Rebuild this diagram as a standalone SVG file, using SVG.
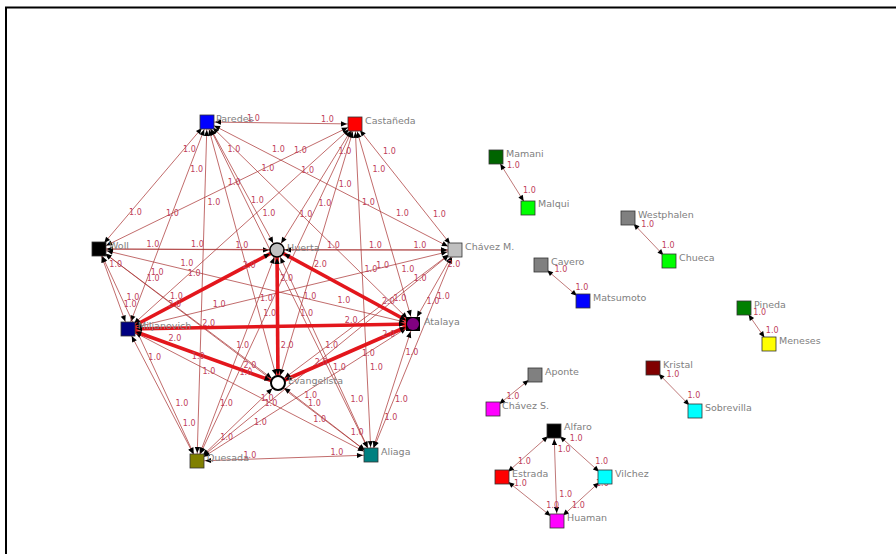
<svg xmlns="http://www.w3.org/2000/svg" width="896" height="554" viewBox="0 0 896 554">
<style>
.e{stroke:#a83232;stroke-opacity:0.8;stroke-width:0.9;fill:none;marker-start:url(#ah);marker-end:url(#ah)}
.t{stroke:#e3161c;stroke-width:3.6;fill:none;marker-start:url(#ah);marker-end:url(#ah)}
.s{stroke:#b86a6a;stroke-width:0.9;fill:none;marker-start:url(#ah);marker-end:url(#ah)}
.l{font-family:"DejaVu Sans",Verdana,sans-serif;font-size:8px;fill:#c0405a}
.n{font-family:"DejaVu Sans",Verdana,sans-serif;font-size:9.5px;fill:#808080}
.sq{stroke:#333;stroke-width:0.8}
</style>
<defs>
<marker id="ah" markerUnits="userSpaceOnUse" markerWidth="12" markerHeight="12" refX="8" refY="0" orient="auto-start-reverse" overflow="visible">
<path d="M0,0 L-6,-2.6 L-6,2.6 Z" fill="#000"/>
</marker>
</defs>
<rect width="896" height="554" fill="#fff"/>
<path d="M6,554 V7.5 H896" fill="none" stroke="#000" stroke-width="2"/>
<g id="connectors">
<line class="e" x1="207" y1="122" x2="355" y2="124"/>
<line class="e" x1="207" y1="122" x2="99" y2="249"/>
<line class="e" x1="207" y1="122" x2="277" y2="250"/>
<line class="e" x1="207" y1="122" x2="455" y2="250"/>
<line class="e" x1="207" y1="122" x2="128" y2="329"/>
<line class="e" x1="207" y1="122" x2="413" y2="324"/>
<line class="e" x1="207" y1="122" x2="278" y2="383"/>
<line class="e" x1="207" y1="122" x2="197" y2="461"/>
<line class="e" x1="207" y1="122" x2="371" y2="455"/>
<line class="e" x1="355" y1="124" x2="99" y2="249"/>
<line class="e" x1="355" y1="124" x2="277" y2="250"/>
<line class="e" x1="355" y1="124" x2="455" y2="250"/>
<line class="e" x1="355" y1="124" x2="128" y2="329"/>
<line class="e" x1="355" y1="124" x2="413" y2="324"/>
<line class="e" x1="355" y1="124" x2="278" y2="383"/>
<line class="e" x1="355" y1="124" x2="197" y2="461"/>
<line class="e" x1="355" y1="124" x2="371" y2="455"/>
<line class="e" x1="99" y1="249" x2="277" y2="250"/>
<line class="e" x1="99" y1="249" x2="455" y2="250"/>
<line class="e" x1="99" y1="249" x2="128" y2="329"/>
<line class="e" x1="99" y1="249" x2="413" y2="324"/>
<line class="e" x1="99" y1="249" x2="278" y2="383"/>
<line class="e" x1="99" y1="249" x2="197" y2="461"/>
<line class="e" x1="99" y1="249" x2="371" y2="455"/>
<line class="e" x1="277" y1="250" x2="455" y2="250"/>
<line class="e" x1="277" y1="250" x2="197" y2="461"/>
<line class="e" x1="277" y1="250" x2="371" y2="455"/>
<line class="e" x1="455" y1="250" x2="128" y2="329"/>
<line class="e" x1="455" y1="250" x2="413" y2="324"/>
<line class="e" x1="455" y1="250" x2="278" y2="383"/>
<line class="e" x1="455" y1="250" x2="197" y2="461"/>
<line class="e" x1="455" y1="250" x2="371" y2="455"/>
<line class="e" x1="128" y1="329" x2="197" y2="461"/>
<line class="e" x1="128" y1="329" x2="371" y2="455"/>
<line class="e" x1="413" y1="324" x2="197" y2="461"/>
<line class="e" x1="413" y1="324" x2="371" y2="455"/>
<line class="e" x1="278" y1="383" x2="197" y2="461"/>
<line class="e" x1="278" y1="383" x2="371" y2="455"/>
<line class="e" x1="197" y1="461" x2="371" y2="455"/>
<line class="t" x1="277" y1="250" x2="128" y2="329"/>
<line class="t" x1="277" y1="250" x2="413" y2="324"/>
<line class="t" x1="277" y1="250" x2="278" y2="383"/>
<line class="t" x1="128" y1="329" x2="413" y2="324"/>
<line class="t" x1="128" y1="329" x2="278" y2="383"/>
<line class="t" x1="413" y1="324" x2="278" y2="383"/>
<line class="s" x1="496" y1="157" x2="528" y2="208"/>
<line class="s" x1="628" y1="218" x2="669" y2="261"/>
<line class="s" x1="541" y1="265" x2="583" y2="301"/>
<line class="s" x1="744" y1="308" x2="769" y2="344"/>
<line class="s" x1="653" y1="368" x2="695" y2="411"/>
<line class="s" x1="535" y1="375" x2="493" y2="409"/>
<line class="s" x1="554" y1="431" x2="502" y2="477"/>
<line class="s" x1="554" y1="431" x2="605" y2="477"/>
<line class="s" x1="554" y1="431" x2="557" y2="521"/>
<line class="s" x1="502" y1="477" x2="557" y2="521"/>
<line class="s" x1="605" y1="477" x2="557" y2="521"/>
</g>
<g id="edge-labels">
<text class="l" x="247" y="120.5">1.0</text><text class="l" x="321" y="121.5">1.0</text>
<text class="l" x="183" y="151.8">1.0</text><text class="l" x="129" y="215.3">1.0</text>
<text class="l" x="227.5" y="152">1.0</text><text class="l" x="262.5" y="216">1.0</text>
<text class="l" x="272" y="152">1.0</text><text class="l" x="396" y="216">1.0</text>
<text class="l" x="190.3" y="171.8">1.0</text><text class="l" x="150.8" y="275.3">1.0</text>
<text class="l" x="261.5" y="170.5">1.0</text><text class="l" x="364.5" y="271.5">1.0</text>
<text class="l" x="227.8" y="185.3">1.0</text><text class="l" x="263.3" y="315.8">1.0</text>
<text class="l" x="207.5" y="204.8">1.0</text><text class="l" x="202.5" y="374.3">1.0</text>
<text class="l" x="251" y="203.3">1.0</text><text class="l" x="333" y="369.8">1.0</text>
<text class="l" x="294" y="153.3">1.0</text><text class="l" x="166" y="215.8">1.0</text>
<text class="l" x="338.5" y="153.5">1.0</text><text class="l" x="299.5" y="216.5">1.0</text>
<text class="l" x="383" y="153.5">1.0</text><text class="l" x="433" y="216.5">1.0</text>
<text class="l" x="301.3" y="173.3">1.0</text><text class="l" x="187.8" y="275.8">1.0</text>
<text class="l" x="372.5" y="172">1.0</text><text class="l" x="401.5" y="272">1.0</text>
<text class="l" x="338.8" y="186.8">1.0</text><text class="l" x="300.3" y="316.3">1.0</text>
<text class="l" x="318.5" y="206.3">1.0</text><text class="l" x="239.5" y="374.8">1.0</text>
<text class="l" x="362" y="204.8">1.0</text><text class="l" x="370" y="370.3">1.0</text>
<text class="l" x="146.5" y="247.3">1.0</text><text class="l" x="235.5" y="247.8">1.0</text>
<text class="l" x="191" y="247.3">1.0</text><text class="l" x="369" y="247.8">1.0</text>
<text class="l" x="109.3" y="267">1.0</text><text class="l" x="123.8" y="307">1.0</text>
<text class="l" x="180.5" y="265.8">1.0</text><text class="l" x="337.5" y="303.3">1.0</text>
<text class="l" x="146.8" y="280.5">1.0</text><text class="l" x="236.3" y="347.5">1.0</text>
<text class="l" x="126.5" y="300">1.0</text><text class="l" x="175.5" y="406">1.0</text>
<text class="l" x="170" y="298.5">1.0</text><text class="l" x="308" y="406">1.0</text>
<text class="l" x="327" y="248">1.0</text><text class="l" x="413.5" y="248">1.0</text>
<text class="l" x="242.8" y="267.8">2.0</text><text class="l" x="168.3" y="307.3">2.0</text>
<text class="l" x="314" y="266.5">2.0</text><text class="l" x="382" y="303.5">2.0</text>
<text class="l" x="280.3" y="281.3">2.0</text><text class="l" x="280.8" y="347.8">2.0</text>
<text class="l" x="260" y="300.8">1.0</text><text class="l" x="220" y="406.3">1.0</text>
<text class="l" x="303.5" y="299.3">1.0</text><text class="l" x="350.5" y="401.8">1.0</text>
<text class="l" x="376.3" y="267.8">1.0</text><text class="l" x="212.8" y="307.3">1.0</text>
<text class="l" x="447.5" y="266.5">2.0</text><text class="l" x="426.5" y="303.5">1.0</text>
<text class="l" x="413.8" y="281.3">1.0</text><text class="l" x="325.3" y="347.8">1.0</text>
<text class="l" x="393.5" y="300.8">1.0</text><text class="l" x="264.5" y="406.3">1.0</text>
<text class="l" x="437" y="299.3">1.0</text><text class="l" x="395" y="401.8">1.0</text>
<text class="l" x="202.3" y="325.8">2.0</text><text class="l" x="344.8" y="323.3">2.0</text>
<text class="l" x="168.5" y="340.5">2.0</text><text class="l" x="243.5" y="367.5">2.0</text>
<text class="l" x="148.3" y="360">1.0</text><text class="l" x="182.8" y="426">1.0</text>
<text class="l" x="191.8" y="358.5">1.0</text><text class="l" x="313.3" y="421.5">1.0</text>
<text class="l" x="382.3" y="336.8">2.0</text><text class="l" x="314.8" y="365.3">2.0</text>
<text class="l" x="362" y="356.3">1.0</text><text class="l" x="254" y="424.8">1.0</text>
<text class="l" x="405.5" y="354.8">1.0</text><text class="l" x="384.5" y="420.3">1.0</text>
<text class="l" x="260.8" y="400.5">1.0</text><text class="l" x="220.3" y="439.5">1.0</text>
<text class="l" x="304.3" y="397.5">1.0</text><text class="l" x="350.8" y="435">1.0</text>
<text class="l" x="243.5" y="457.5">1.0</text><text class="l" x="330.5" y="454.5">1.0</text>
<text class="l" x="507" y="167.8">1.0</text><text class="l" x="523" y="193.3">1.0</text>
<text class="l" x="641.3" y="226.8">1.0</text><text class="l" x="661.8" y="248.3">1.0</text>
<text class="l" x="554.5" y="272">1.0</text><text class="l" x="575.5" y="290">1.0</text>
<text class="l" x="753.3" y="315">1.0</text><text class="l" x="765.8" y="333">1.0</text>
<text class="l" x="666.5" y="376.8">1.0</text><text class="l" x="687.5" y="398.3">1.0</text>
<text class="l" x="506.5" y="398.5">1.0</text>
<text class="l" x="518" y="463.5">1.0</text>
<text class="l" x="569.8" y="440.5">1.0</text><text class="l" x="595.3" y="463.5">1.0</text>
<text class="l" x="557.8" y="451.5">1.0</text><text class="l" x="559.3" y="496.5">1.0</text>
<text class="l" x="514" y="486">1.0</text><text class="l" x="546.3" y="508">1.0</text>
<text class="l" x="596" y="486">1.0</text><text class="l" x="572" y="508">1.0</text>
</g>
<g id="paredes"><rect class="sq" x="200" y="115" width="14" height="14" fill="#0000ff"/><text class="n" x="216" y="122">Paredes</text></g>
<g id="castaneda"><rect class="sq" x="348" y="117" width="14" height="14" fill="#ff0000"/><text class="n" x="365" y="124">Castañeda</text></g>
<g id="woll"><rect class="sq" x="92" y="242" width="14" height="14" fill="#000000"/><text class="n" x="109" y="249">Woll</text></g>
<g id="huerta"><circle cx="277" cy="250" r="7" fill="#c0c0c0" stroke="#000" stroke-width="1.5"/><text class="n" x="287" y="251">Huerta</text></g>
<g id="chavez-m"><rect class="sq" x="448" y="243" width="14" height="14" fill="#c0c0c0"/><text class="n" x="465" y="250">Chávez M.</text></g>
<g id="miljanovich"><rect class="sq" x="121" y="322" width="14" height="14" fill="#000080"/><text class="n" x="138" y="329">Miljanovich</text></g>
<g id="atalaya"><rect x="406" y="317" width="14" height="14" fill="#000"/><circle cx="413" cy="324" r="6" fill="#800080"/><text class="n" x="424" y="325">Atalaya</text></g>
<g id="evangelista"><circle cx="278" cy="383" r="7" fill="#fff" stroke="#000" stroke-width="2"/><text class="n" x="288" y="384">Evangelista</text></g>
<g id="quesada"><rect class="sq" x="190" y="454" width="14" height="14" fill="#808000"/><text class="n" x="207" y="461">Quesada</text></g>
<g id="aliaga"><rect class="sq" x="364" y="448" width="14" height="14" fill="#008080"/><text class="n" x="381" y="455">Aliaga</text></g>
<g id="mamani"><rect class="sq" x="489" y="150" width="14" height="14" fill="#006400"/><text class="n" x="506" y="157">Mamani</text></g>
<g id="malqui"><rect class="sq" x="521" y="201" width="14" height="14" fill="#00ff00"/><text class="n" x="538" y="207">Malqui</text></g>
<g id="westphalen"><rect class="sq" x="621" y="211" width="14" height="14" fill="#808080"/><text class="n" x="638" y="218">Westphalen</text></g>
<g id="chueca"><rect class="sq" x="662" y="254" width="14" height="14" fill="#00ff00"/><text class="n" x="679" y="261">Chueca</text></g>
<g id="cavero"><rect class="sq" x="534" y="258" width="14" height="14" fill="#808080"/><text class="n" x="551" y="265">Cavero</text></g>
<g id="matsumoto"><rect class="sq" x="576" y="294" width="14" height="14" fill="#0000ff"/><text class="n" x="593" y="301">Matsumoto</text></g>
<g id="pineda"><rect class="sq" x="737" y="301" width="14" height="14" fill="#008000"/><text class="n" x="754" y="308">Pineda</text></g>
<g id="meneses"><rect class="sq" x="762" y="337" width="14" height="14" fill="#ffff00"/><text class="n" x="779" y="344">Meneses</text></g>
<g id="kristal"><rect class="sq" x="646" y="361" width="14" height="14" fill="#800000"/><text class="n" x="663" y="368">Kristal</text></g>
<g id="sobrevilla"><rect class="sq" x="688" y="404" width="14" height="14" fill="#00ffff"/><text class="n" x="705" y="411">Sobrevilla</text></g>
<g id="aponte"><rect class="sq" x="528" y="368" width="14" height="14" fill="#808080"/><text class="n" x="545" y="375">Aponte</text></g>
<g id="chavez-s"><rect class="sq" x="486" y="402" width="14" height="14" fill="#ff00ff"/><text class="n" x="502" y="409">Chávez S.</text></g>
<g id="alfaro"><rect class="sq" x="547" y="424" width="14" height="14" fill="#000000"/><text class="n" x="564" y="430">Alfaro</text></g>
<g id="estrada"><rect class="sq" x="495" y="470" width="14" height="14" fill="#ff0000"/><text class="n" x="512" y="477">Estrada</text></g>
<g id="vilchez"><rect class="sq" x="598" y="470" width="14" height="14" fill="#00ffff"/><text class="n" x="615" y="477">Vilchez</text></g>
<g id="huaman"><rect class="sq" x="550" y="514" width="14" height="14" fill="#ff00ff"/><text class="n" x="567" y="521">Huaman</text></g>
</svg>
